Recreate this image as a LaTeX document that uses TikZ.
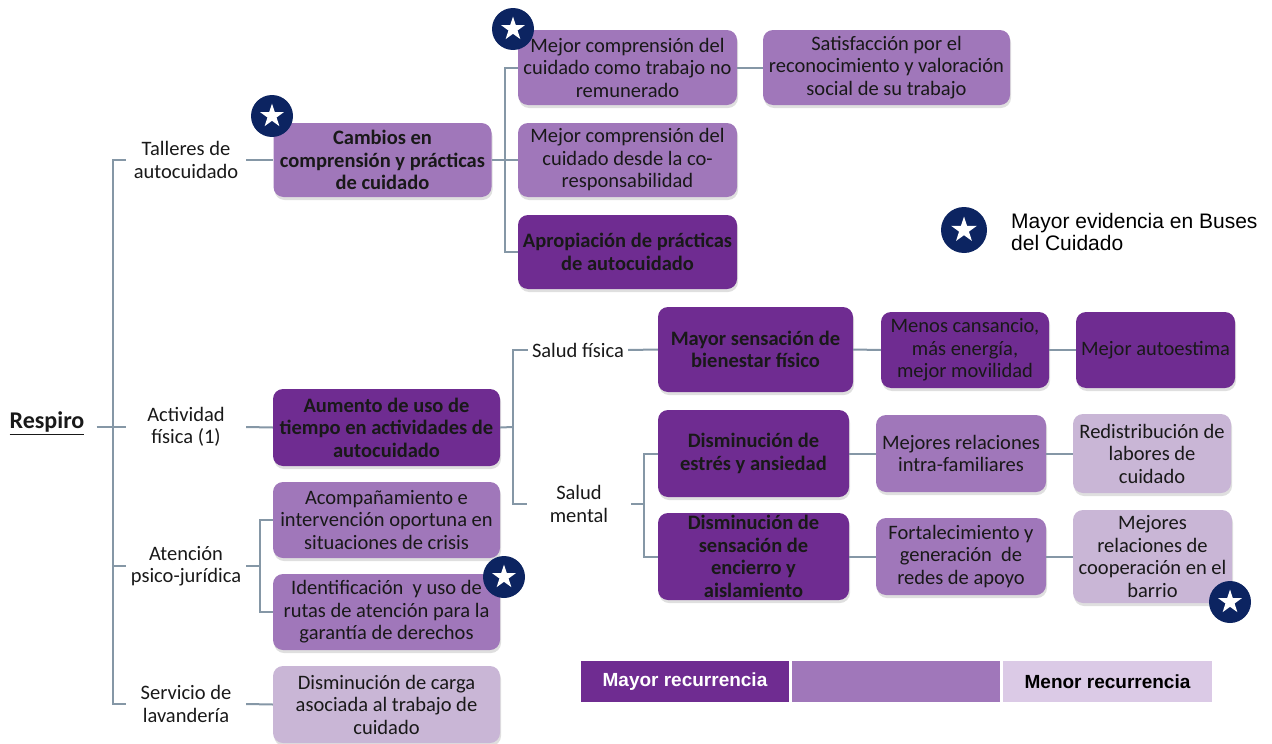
\documentclass[tikz,border=0pt]{standalone}
\usepackage{fontspec}
\setmainfont{Carlito}
\newfontfamily\arialf{Liberation Sans}
\usetikzlibrary{shapes.geometric,shadows}
\definecolor{morado}{RGB}{111,44,145}
\definecolor{lila}{RGB}{160,119,186}
\definecolor{lavanda}{RGB}{201,182,214}
\definecolor{lavclaro}{RGB}{219,202,230}
\definecolor{marino}{RGB}{12,36,97}
\definecolor{gris}{RGB}{133,151,166}
\definecolor{tinta}{RGB}{25,25,25}
\tikzstyle{caja} = [rectangle, rounded corners=10pt, align=center, inner sep=2pt, text=tinta, font=\fontsize{20.5}{22.5}\selectfont, drop shadow={shadow xshift=1pt, shadow yshift=-3pt, opacity=0.25}]
\tikzstyle{fuerte} = [caja, fill=morado]
\tikzstyle{media} = [caja, fill=lila]
\tikzstyle{suave} = [caja, fill=lavanda]
\tikzstyle{etiqueta} = [align=center, inner sep=2pt, minimum width=120pt, text=tinta, font=\fontsize{20.5}{22.5}\selectfont]
\tikzstyle{linea} = [draw=gris, line width=2pt]
\tikzstyle{insignia} = [circle, fill=marino, minimum size=42pt, inner sep=0pt]
\tikzstyle{estrella} = [star, star points=5, star point ratio=2.6, fill=white, minimum size=25pt, inner sep=0pt]
\tikzstyle{barra} = [rectangle, minimum height=41pt, inner sep=0pt, font=\arialf\bfseries\fontsize{19}{21}\selectfont]

\begin{document}
\begin{tikzpicture}[x=1pt, y=-1pt]
    \useasboundingbox (0,0) rectangle (1272,744);

    % raiz y primer nivel
    \node [text=tinta, inner sep=2pt, font=\fontsize{24}{26}\selectfont\bfseries] (respiro) at (47,423) {\underline{Respiro}};
    \coordinate (tronco) at (113,427);

    \node [etiqueta] (talleres) at (186,160) {Talleres de\\autocuidado};
    \node [etiqueta] (actividad) at (186,427) {Actividad\\física (1)};
    \node [etiqueta] (atencion) at (186,566) {Atención\\psico-jurídica};
    \node [etiqueta] (servicio) at (186,704) {Servicio de\\lavandería};

    % resultados directos
    \node [media, minimum width=218pt, minimum height=74pt, font=\fontsize{20.5}{22.5}\selectfont\bfseries] (cambios) at (382.5,160) {Cambios en\\comprensión y prácticas\\de cuidado};
    \node [fuerte, minimum width=227pt, minimum height=77pt, font=\fontsize{20.5}{22.5}\selectfont\bfseries] (aumento) at (386.5,427.5) {Aumento de uso de\\tiempo en actividades de\\autocuidado};
    \node [media, minimum width=227pt, minimum height=76pt] (acompana) at (386.5,520) {Acompañamiento e\\intervención oportuna en\\situaciones de crisis};
    \node [media, minimum width=227pt, minimum height=76pt] (identifica) at (386.5,612) {Identificación\ \ y uso de\\rutas de atención para la\\garantía de derechos};
    \node [suave, minimum width=227pt, minimum height=77pt] (carga) at (386.5,704.5) {Disminución de carga\\asociada al trabajo de\\cuidado};

    % rama de talleres
    \coordinate (nudotalleres) at (505,160);
    \node [media, minimum width=219pt, minimum height=75pt] (mejoruno) at (627.5,67.5) {Mejor comprensión del\\cuidado como trabajo no\\remunerado};
    \node [media, minimum width=247pt, minimum height=75pt] (satisfaccion) at (886.5,67.5) {Satisfacción por el\\reconocimiento y valoración\\social de su trabajo};
    \node [media, minimum width=219pt, minimum height=74pt] (mejordos) at (627.5,160) {Mejor comprensión del\\cuidado desde la co-\\responsabilidad};
    \node [fuerte, minimum width=219pt, minimum height=74pt, font=\fontsize{20.5}{22.5}\selectfont\bfseries] (apropiacion) at (627.5,252) {Apropiación de prácticas\\de autocuidado};

    % rama de actividad fisica
    \coordinate (ramal) at (513,427);
    \node [etiqueta, minimum width=0pt, inner sep=4pt] (saludfis) at (578,350) {Salud física};
    \node [etiqueta, minimum width=104pt] (saludmen) at (579,504) {Salud\\mental};
    \coordinate (nudosalud) at (644,504);

    \node [fuerte, minimum width=195pt, minimum height=85pt, font=\fontsize{20.5}{22.5}\selectfont\bfseries] (bienestar) at (755.5,349.5) {Mayor sensación de\\bienestar físico};
    \node [fuerte, minimum width=168pt, minimum height=76pt] (cansancio) at (965,350) {Menos cansancio,\\más energía,\\mejor movilidad};
    \node [fuerte, minimum width=159pt, minimum height=76pt] (autoestima) at (1155.5,350) {Mejor autoestima};

    \node [fuerte, minimum width=191pt, minimum height=87pt, font=\fontsize{20.5}{22.5}\selectfont\bfseries] (estres) at (753.5,453.5) {Disminución de\\estrés y ansiedad};
    \node [media, minimum width=170pt, minimum height=77pt] (familia) at (961,453.5) {Mejores relaciones\\intra-familiares};
    \node [suave, minimum width=158pt, minimum height=79pt] (labores) at (1152,453.5) {Redistribución de\\labores de\\cuidado};

    \node [fuerte, minimum width=191pt, minimum height=87pt, font=\fontsize{20.5}{22.5}\selectfont\bfseries] (encierro) at (753.5,556.5) {Disminución de\\sensación de\\encierro y\\aislamiento};
    \node [media, minimum width=170pt, minimum height=77pt] (redes) at (961,556.5) {Fortalecimiento y\\generación\ \ de\\redes de apoyo};
    \node [suave, minimum width=159pt, minimum height=93pt] (barrio) at (1152.5,556.5) {Mejores\\relaciones de\\cooperación en el\\barrio};

    % conectores
    \draw [linea] ([xshift=10pt]respiro.east |- tronco) -- (tronco);
    \draw [linea] (tronco) |- (talleres.west);
    \draw [linea] (tronco) |- (actividad.west);
    \draw [linea] (tronco) |- (atencion.west);
    \draw [linea] (tronco) |- (servicio.west);

    \draw [linea] (talleres.east) -- (cambios.west);
    \draw [linea] (actividad.east) -- (aumento.west);
    \draw [linea] (atencion.east) -- (260,566) |- (acompana.west);
    \draw [linea] (260,566) |- (identifica.west);
    \draw [linea] (servicio.east) -- (carga.west);

    \draw [linea] (cambios.east) -- (nudotalleres);
    \draw [linea] (nudotalleres) |- (mejoruno.west);
    \draw [linea] (nudotalleres) |- (mejordos.west);
    \draw [linea] (nudotalleres) |- (apropiacion.west);
    \draw [linea] (mejoruno.east) -- (satisfaccion.west);

    \draw [linea] (aumento.east) -- (ramal);
    \draw [linea] (ramal) |- (saludfis.west);
    \draw [linea] (ramal) |- (saludmen.west);
    \draw [linea] (saludfis.east) -- (bienestar.west);
    \draw [linea] (saludmen.east) -- (nudosalud);
    \draw [linea] (nudosalud) |- (estres.west);
    \draw [linea] (nudosalud) |- (encierro.west);

    \draw [linea] (bienestar.east) -- (cansancio.west);
    \draw [linea] (cansancio.east) -- (autoestima.west);
    \draw [linea] (estres.east) -- (familia.west);
    \draw [linea] (familia.east) -- (labores.west);
    \draw [linea] (encierro.east) -- (redes.west);
    \draw [linea] (redes.east) -- (barrio.west);

    % estrellas de evidencia
    \foreach \x/\y/\n in {272/116/uno, 513/29/dos, 504/577/tres, 1230/602/cuatro}
    {
        \node [insignia] (ins\n) at (\x,\y) {};
        \node [estrella] at (ins\n) {};
    }

    % leyenda
    \node [insignia, minimum size=46pt] (insleyenda) at (964,230) {};
    \node [estrella, minimum size=27pt] at (insleyenda) {};
    \node [anchor=west, align=left, inner sep=3pt, font=\arialf\fontsize{21}{22}\selectfont] (leyenda) at (1008,232) {Mayor evidencia en Buses\\del Cuidado};

    \node [barra, fill=morado, minimum width=208pt, text=white] (mayor) at (685,681.5) {Mayor recurrencia};
    \node [barra, fill=lila, minimum width=208pt] (medio) at (896,681.5) {};
    \node [barra, fill=lavclaro, minimum width=209pt, text=black] (menor) at (1107.5,681.5) {Menor recurrencia};
\end{tikzpicture}
\end{document}
